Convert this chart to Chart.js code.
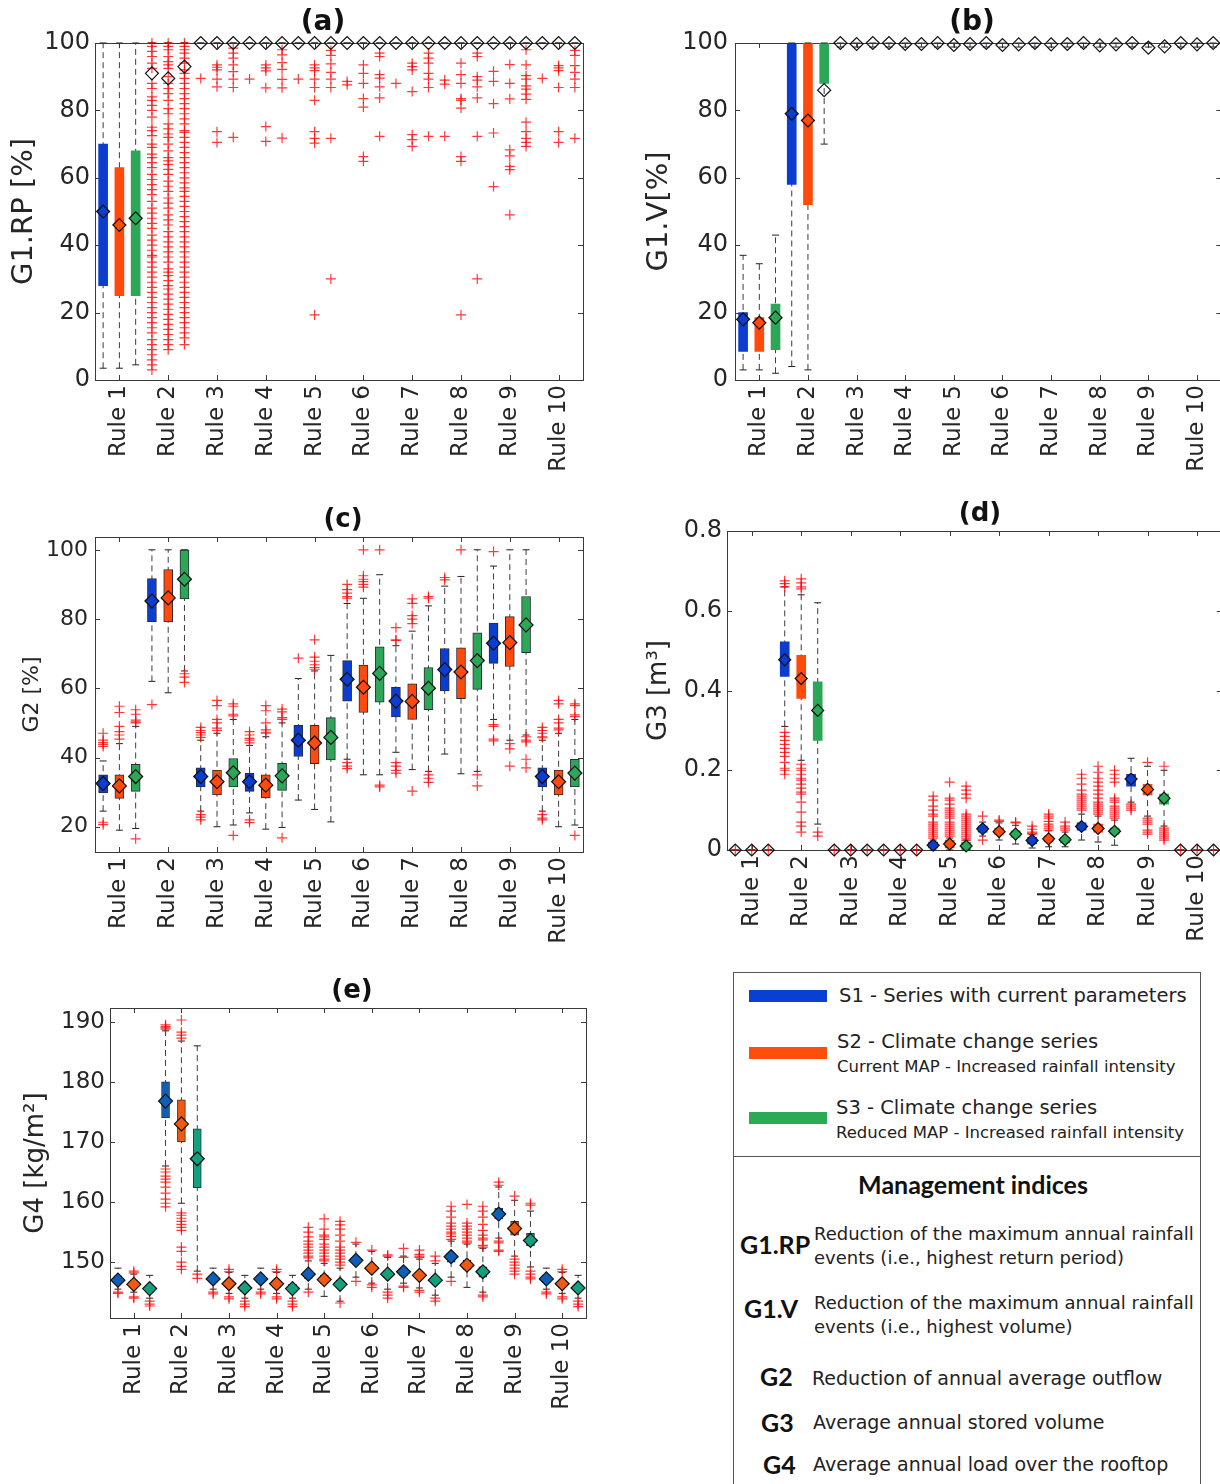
<!DOCTYPE html>
<html>
<head>
<meta charset="utf-8">
<script src="https://cdn.jsdelivr.net/npm/chart.js@4.4.0/dist/chart.umd.min.js"></script>
<style>
  html, body { margin: 0; padding: 0; background: #fff; }
  body { width: 1220px; height: 1484px; position: relative; overflow: hidden; font-family: 'DejaVu Sans', sans-serif; color: #222; }
  canvas { position: absolute; }
  .ttl { position: absolute; font-weight: bold; transform: translate(-50%, -50%); white-space: nowrap; line-height: 1; color: #111; }
  #legend { position: absolute; left: 733px; top: 972px; width: 468px; height: 560px; border: 1.5px solid #555; box-sizing: border-box; }
  #legend div { position: absolute; white-space: nowrap; line-height: 1; }
  .sw { left: 15px; width: 78px; height: 12px; }
  .lt { font-size: 19.5px; transform: translateY(-50%); }
  .ls { font-size: 16.5px; transform: translateY(-50%); }
  .gk { font-family: Lato, sans-serif; font-weight: bold; font-size: 25px; transform: translateY(-50%); color: #111; }
  .gd { font-size: 18px; transform: translateY(-50%); }
  .gd2 { font-size: 19px; transform: translateY(-50%); }
</style>
</head>
<body>
<canvas id="chartA" width="600" height="480" style="left:0;top:0"></canvas>
<canvas id="chartB" width="610" height="480" style="left:620px;top:0"></canvas>
<canvas id="chartC" width="600" height="460" style="left:0;top:490px"></canvas>
<canvas id="chartD" width="610" height="460" style="left:620px;top:490px"></canvas>
<canvas id="chartE" width="600" height="460" style="left:0;top:960px"></canvas>

<div class="ttl" style="left:323px;top:21px;font-size:28px">(a)</div>
<div class="ttl" style="left:972px;top:21px;font-size:28px">(b)</div>
<div class="ttl" style="left:343px;top:518px;font-size:26px">(c)</div>
<div class="ttl" style="left:980px;top:512px;font-size:26px">(d)</div>
<div class="ttl" style="left:352px;top:989px;font-size:26px">(e)</div>

<div id="legend">
  <div class="sw" style="top:17px;background:#0a3fd3"></div>
  <div class="lt" style="left:105px;top:23px">S1 - Series with current parameters</div>
  <div class="sw" style="top:74px;background:#ff4d0c"></div>
  <div class="lt" style="left:103px;top:69px">S2 - Climate change series</div>
  <div class="ls" style="left:103px;top:94px">Current MAP - Increased rainfall intensity</div>
  <div class="sw" style="top:139px;background:#2aaa55"></div>
  <div class="lt" style="left:102px;top:135px">S3 - Climate change series</div>
  <div class="ls" style="left:102px;top:160px">Reduced MAP - Increased rainfall intensity</div>
  <div style="left:0;top:183px;width:466px;border-top:1.5px solid #555"></div>
  <div class="gk" style="left:239px;top:211px;transform:translate(-50%,-50%)">Management indices</div>
  <div class="gk" style="left:6px;top:271px">G1.RP</div>
  <div class="gd" style="left:80px;top:261px">Reduction of the maximum annual rainfall</div>
  <div class="gd" style="left:80px;top:285px">events (i.e., highest return period)</div>
  <div class="gk" style="left:10px;top:335px">G1.V</div>
  <div class="gd" style="left:80px;top:330px">Reduction of the maximum annual rainfall</div>
  <div class="gd" style="left:80px;top:354px">events (i.e., highest volume)</div>
  <div class="gk" style="left:26px;top:403px">G2</div>
  <div class="gd2" style="left:78px;top:405px">Reduction of annual average outflow</div>
  <div class="gk" style="left:27px;top:449px">G3</div>
  <div class="gd2" style="left:79px;top:449px">Average annual stored volume</div>
  <div class="gk" style="left:29px;top:491px">G4</div>
  <div class="gd2" style="left:79px;top:491px">Average annual load over the rooftop</div>
</div>

<script>
// box order in every array: Rule 1 S1, Rule 1 S2, Rule 1 S3, Rule 2 S1, ...
const RULES = ['Rule 1', 'Rule 2', 'Rule 3', 'Rule 4', 'Rule 5', 'Rule 6', 'Rule 7', 'Rule 8', 'Rule 9', 'Rule 10'];
const SERIES_COLORS = ['#0a3dd0', '#ff4a0c', '#2ba757'];
const G4_COLORS = ['#0e5fb6', '#f0590f', '#12a07f'];

// (a) G1.RP [%]
const A_YTICKS = [0, 20, 40, 60, 80, 100];
const A_Q1 = [28, 25, 25, 100, 100, 100, 100, 100, 100, 100, 100, 100, 100, 100, 100, 100, 100, 100, 100, 100, 100, 100, 100, 100, 100, 100, 100, 100, 100, 100];
const A_Q3 = [70, 63, 68, 100, 100, 100, 100, 100, 100, 100, 100, 100, 100, 100, 100, 100, 100, 100, 100, 100, 100, 100, 100, 100, 100, 100, 100, 100, 100, 100];
const A_MEAN = [50, 46, 48, 91, 89.5, 93, 100, 100, 100, 100, 100, 100, 100, 100, 100, 100, 100, 100, 100, 100, 100, 100, 100, 100, 100, 100, 100, 100, 100, 100];
const A_LO = [3.5, 3.5, 4.5, 100, 100, 100, 100, 100, 100, 100, 100, 100, 100, 100, 100, 100, 100, 100, 100, 100, 100, 100, 100, 100, 100, 100, 100, 100, 100, 100];
const A_HI = [100, 100, 100, 100, 100, 100, 100, 100, 100, 100, 100, 100, 100, 100, 100, 100, 100, 100, 100, 100, 100, 100, 100, 100, 100, 100, 100, 100, 100, 100];
const A_OUT = [
  [], [], [],
  [100, 99, 97.5, 96, 94, 92.5, 88, 86.5, 84, 83, 81.5, 80, 78, 75, 74, 72.5, 70, 69, 67, 66, 64.5, 63, 61, 59.5, 58, 56.5, 55, 53, 51, 49.5, 48, 46.5, 45, 43, 41.5, 40, 38.5, 37, 36.5, 35, 33.5, 32, 30.5, 29, 27.5, 26, 24.5, 23, 21.5, 20, 18.5, 17, 15.5, 14, 12, 10.5, 9, 7.5, 6, 4.5, 3],
  [100, 99, 98, 96, 94.5, 93.5, 92.5, 90, 88, 86.5, 85, 83, 80.5, 79, 76, 74.5, 73, 72, 70, 68, 66, 65, 64, 62.5, 61, 59, 57.5, 56, 54, 52.5, 51, 49, 47.5, 46, 44, 42.5, 41, 39.5, 38, 36.5, 35, 33, 32, 31, 29.5, 28, 27, 25.5, 24, 22.5, 21, 19.5, 18, 16.5, 15, 13.5, 12, 10.5, 9],
  [100, 99, 98, 97, 95.5, 94, 92, 91, 89.5, 88, 86.5, 85, 83.5, 82, 80.5, 79, 77.5, 76, 74, 73.5, 72, 70.5, 69, 67.5, 66, 64.5, 63, 61.5, 60, 58.5, 57, 56, 54.5, 53, 51.5, 50, 48.5, 47, 45.5, 44, 42.5, 41, 39.5, 38, 36.5, 35, 33.5, 32, 30.5, 29, 27.5, 26, 24.5, 23, 21.5, 20, 18.5, 17, 15.5, 14, 12.5, 10.5],
  [89.5], [93.5, 92.8, 92, 89.3, 87, 73.7, 70.5], [98.5, 97, 95.5, 93.5, 91.5, 89.3, 86.8, 72],
  [89.3], [93.5, 92.6, 91.7, 86.7, 75.2, 70.8], [98, 96.5, 94.2, 92.2, 89.2, 86.7, 71.8],
  [89.3], [93.5, 92.6, 91.8, 89.3, 86.8, 83, 73.7, 71.7, 70.3, 19.3], [97.8, 96.3, 93.8, 91.3, 89.3, 86.8, 71.7, 30],
  [88.6, 87.6], [93.5, 91, 88, 83.5, 81, 66.3, 64.9], [97, 96, 90.6, 89.6, 87, 83.7, 72.3],
  [88], [94, 93, 92, 85.6, 72.8, 71.3, 69.3], [97, 95.5, 94, 91, 89.3, 86.8, 72.3],
  [89, 87.8, 72.3], [94, 90.6, 88, 83.5, 83, 80.7, 66.3, 64.9, 19.3], [97, 96, 90, 89, 87, 83.7, 72.3, 30],
  [91.6, 88.6, 82, 73.3, 57.4], [93.6, 88, 83.4, 68.3, 66.5, 63.4, 62.4, 49], [98, 93.5, 90.3, 89.3, 87.3, 86.3, 84.8, 83.3, 76.5, 73.7, 71.7, 70.5, 69.3],
  [89.5], [93.3, 92.6, 91.8, 86.8, 73.7, 70.5], [97.8, 96.3, 93.3, 91.3, 89.3, 86.8, 71.7]
];

// (b) G1.V [%]
const B_YTICKS = [0, 20, 40, 60, 80, 100];
const B_Q1 = [8.5, 8.5, 9, 58, 52, 88, 100, 100, 100, 100, 100, 100, 100, 100, 100, 100, 100, 100, 100, 100, 100, 100, 100, 100, 100, 100, 100, 100, 100, 100];
const B_Q3 = [20, 18.5, 22.5, 100, 100, 100, 100, 100, 100, 100, 100, 100, 100, 100, 100, 100, 100, 100, 100, 100, 100, 100, 100, 100, 100, 100, 100, 100, 100, 100];
const B_MEAN = [18, 17, 18.5, 79, 77, 86, 100, 99.7, 100, 100, 99.7, 99.7, 100, 99.4, 99.7, 100, 99.4, 99.6, 100, 99.6, 99.7, 100, 99.3, 99.6, 100, 98.6, 99, 100, 99.6, 100];
const B_LO = [3, 3, 2, 4, 3, 70, 98.8, 98.8, 98.8, 98.8, 98.8, 98.8, 98.8, 98.8, 98.8, 98.8, 98.8, 98.8, 98.8, 98.8, 98.8, 98.8, 98.8, 98.8, 98.8, 98.8, 98.8, 98.8, 98.8, 98.8];
const B_HI = [37, 34.5, 43, 100, 100, 100, 100, 100, 100, 100, 100, 100, 100, 100, 100, 100, 100, 100, 100, 100, 100, 100, 100, 100, 100, 100, 100, 100, 100, 100];
const B_OUT = [[], [], [], [], [], [], [], [], [], [], [], [], [], [], [], [], [], [], [], [], [], [], [], [], [], [], [], [], [], []];

// (c) G2 [%]
const C_YTICKS = [20, 40, 60, 80, 100];
const C_Q1 = [29.8, 28.2, 30.2, 79.2, 79.2, 85.8, 31.5, 29.2, 31.5, 30.2, 28.3, 30.5, 40.3, 38.2, 39.3, 56.3, 53, 56, 51.7, 51, 53.8, 59.2, 57, 59.7, 67.2, 66.3, 70.3, 31.5, 29.2, 31.5];
const C_Q3 = [35, 35, 38, 91.7, 94.3, 100, 37, 36.4, 39.7, 35.5, 35, 38.3, 49.3, 49.3, 51.5, 68, 66.7, 72, 60.3, 61.3, 66, 71.5, 71.7, 76, 78.8, 80.7, 86.5, 37, 36.4, 39.5];
const C_MEAN = [32.5, 31.8, 34.5, 85.2, 86.1, 91.5, 34.5, 33, 35.6, 33, 32, 34.7, 45, 44.2, 45.8, 62.6, 60.3, 64.3, 56.3, 56.2, 60, 65.4, 64.7, 68, 73, 73.2, 78.3, 34.5, 33, 35.5];
const C_LO = [24.5, 19, 19.5, 62, 58.7, 65, 24.5, 20, 20.5, 24, 19.3, 19.8, 27.7, 25, 21.4, 39.5, 35, 35, 41.5, 36.5, 36, 41, 35.3, 36, 51, 45, 46.5, 24.5, 20, 20.5];
const C_HI = [39, 44, 49, 100, 100, 100, 45, 47, 51, 43.5, 46, 50, 62.8, 65, 69.5, 84.5, 86, 92.8, 72.3, 76.5, 83.8, 89.5, 92.3, 100, 95.3, 100, 100, 45, 47, 51];
const C_OUT = [
  [47, 45, 44.3, 43.8, 43.2, 21.3, 20.6], [54.8, 53, 49, 47.5, 46.5, 45.3], [53.8, 52.5, 50.8, 50.3, 50, 16.5],
  [55.3], [], [64.2, 63.2, 61.7],
  [48.7, 47.8, 47.2, 46.5, 45.8, 23.5, 22.8, 22], [56.5, 55, 51, 50, 48.5, 47.8], [55.5, 54.8, 52.5, 52, 17.5],
  [47.5, 46.5, 45.5, 45, 44.2, 22, 21.2], [55, 53.5, 50, 48, 47.3, 47], [54, 53.2, 51.5, 51, 16.8],
  [68.7], [74, 69, 67.8, 66.8, 66, 65.5], [],
  [90, 88.5, 87.5, 86.5, 86, 38.5, 37.5, 36.8], [100, 92.5, 91.5, 90.8, 90, 89.2], [100, 32, 31.5],
  [77.5, 74, 73.8, 38.5, 37.5, 36.3, 35.5], [85.8, 84.5, 81, 80, 78.7, 30.3], [86.5, 86, 35, 34, 32.8],
  [92, 91.3], [100], [35, 31.8],
  [99.5, 49.5, 49, 45.3, 44.8], [44, 42.5, 37.5], [46, 45, 44.5, 39.5, 37],
  [48.7, 47.8, 47, 46, 45.7, 23.5, 22.5, 22], [56.5, 55.5, 51, 50, 48.5, 48], [55.5, 55, 52.3, 51.8, 17.5]
];

// (d) G3 [m3]
const D_YTICKS = [0, 0.2, 0.4, 0.6, 0.8];
const D_Q1 = [0, 0, 0, 0.435, 0.38, 0.275, 0, 0, 0, 0, 0, 0, 0.005, 0.005, 0, 0.045, 0.04, 0.032, 0.015, 0.02, 0.018, 0.05, 0.045, 0.04, 0.16, 0.138, 0.115, 0, 0, 0];
const D_Q3 = [0, 0, 0, 0.522, 0.488, 0.422, 0, 0, 0, 0, 0, 0, 0.02, 0.025, 0.02, 0.06, 0.055, 0.048, 0.032, 0.035, 0.032, 0.068, 0.065, 0.055, 0.19, 0.165, 0.14, 0, 0, 0];
const D_MEAN = [0, 0, 0, 0.477, 0.43, 0.35, 0, 0, 0, 0, 0, 0, 0.012, 0.015, 0.01, 0.053, 0.046, 0.04, 0.024, 0.028, 0.026, 0.059, 0.054, 0.047, 0.178, 0.152, 0.13, 0, 0, 0];
const D_LO = [0, 0, 0, 0.31, 0.225, 0.065, 0, 0, 0, 0, 0, 0, 0, 0, 0, 0.035, 0.025, 0.015, 0.005, 0.008, 0.008, 0.025, 0.02, 0.012, 0.12, 0.085, 0.06, 0, 0, 0];
const D_HI = [0, 0, 0, 0.66, 0.64, 0.62, 0, 0, 0, 0, 0, 0, 0.025, 0.03, 0.025, 0.07, 0.068, 0.062, 0.038, 0.048, 0.045, 0.09, 0.085, 0.075, 0.23, 0.21, 0.2, 0, 0, 0];
const D_OUT = [
  [0], [0], [0],
  [0.675, 0.668, 0.66, 0.295, 0.285, 0.275, 0.265, 0.255, 0.245, 0.235, 0.22, 0.205, 0.2, 0.19],
  [0.68, 0.67, 0.66, 0.655, 0.215, 0.205, 0.2, 0.19, 0.18, 0.175, 0.165, 0.155, 0.145, 0.14, 0.12, 0.095, 0.07, 0.06, 0.045],
  [0.045, 0.035],
  [0], [0], [0],
  [0], [0], [0],
  [0.135, 0.125, 0.11, 0.1, 0.09, 0.085, 0.07, 0.065, 0.06, 0.055, 0.05, 0.045, 0.04, 0.035, 0.03],
  [0.17, 0.13, 0.125, 0.115, 0.105, 0.1, 0.095, 0.09, 0.085, 0.08, 0.07, 0.065, 0.06, 0.055, 0.05, 0.045, 0.04, 0.035],
  [0.16, 0.15, 0.14, 0.13, 0.09, 0.085, 0.08, 0.075, 0.07, 0.065, 0.06, 0.055, 0.05, 0.045, 0.04, 0.035, 0.03, 0.025],
  [0.085, 0.025], [0.075, 0.072], [0.07, 0.068],
  [0.06, 0.052, 0.045, 0.042, 0.04], [0.09, 0.085, 0.08, 0.072, 0.065, 0.06, 0.055, 0.05], [0.07, 0.06, 0.055, 0.05],
  [0.19, 0.18, 0.165, 0.15, 0.14, 0.135, 0.13, 0.125, 0.12, 0.115, 0.11, 0.105, 0.1],
  [0.21, 0.195, 0.18, 0.17, 0.16, 0.15, 0.14, 0.13, 0.12, 0.115, 0.11, 0.105, 0.1, 0.095, 0.09],
  [0.2, 0.19, 0.18, 0.17, 0.13, 0.125, 0.12, 0.11, 0.105, 0.1, 0.095, 0.09, 0.085, 0.08],
  [0.115, 0.11, 0.105, 0.1], [0.22, 0.08, 0.075, 0.07, 0.065, 0.05, 0.045, 0.04], [0.21, 0.055, 0.05, 0.045, 0.04, 0.035, 0.03, 0.025],
  [0], [0], [0]
];

// (e) G4 [kg/m2]
const E_YTICKS = [150, 160, 170, 180, 190];
const E_Q1 = [146.5, 145.8, 145, 174, 170, 162.4, 146.6, 145.8, 145.1, 146.6, 145.8, 145.1, 147.3, 146.5, 145.8, 149.7, 148.4, 147.4, 147.8, 147.2, 146.4, 150, 148.8, 147.5, 157.2, 154.5, 152.7, 146.6, 145.8, 145.1];
const E_Q3 = [147.7, 146.8, 146.2, 180, 177, 172.2, 147.8, 147, 146.3, 147.8, 147, 146.3, 148.5, 147.8, 147, 150.8, 149.5, 148.6, 149, 148.4, 147.6, 151.5, 150.3, 149.2, 159, 156.8, 154.8, 147.8, 147, 146.3];
const E_MEAN = [147, 146.3, 145.6, 176.8, 173, 167.2, 147.2, 146.4, 145.7, 147.2, 146.4, 145.6, 148, 147.1, 146.3, 150.3, 149, 148, 148.4, 147.8, 147, 150.9, 149.5, 148.4, 158, 155.6, 153.6, 147.2, 146.4, 145.7];
const E_LO = [145.5, 145, 144, 166, 159.8, 148.5, 145.5, 144.8, 144, 145.5, 144.8, 144, 145.5, 144.3, 143.5, 147.5, 146.5, 145.5, 146.5, 145.7, 144.5, 147.5, 145.8, 145, 154, 151, 149.2, 145.5, 144.8, 144];
const E_HI = [149, 148, 147.8, 188.5, 186.8, 186, 149, 148.3, 147.8, 149, 148.3, 147.8, 150.2, 149.8, 149, 153, 151.8, 150.8, 151, 150.5, 149.8, 153.5, 153, 152.3, 162.5, 160.3, 158.5, 149, 148.3, 147.8];
const E_OUT = [
  [145, 144.8], [148.5, 148.2, 144.2, 144], [143.5, 143, 142.7],
  [189.5, 189.2, 189, 188.8, 165.5, 165, 164.3, 163.8, 163.3, 162.5, 161.5, 160.5, 159.8, 159.2],
  [190.3, 188.3, 187.8, 187.3, 158.2, 157.8, 157.3, 156.8, 156.3, 155.8, 155.3, 152.5, 151.8, 150, 149.3, 148.8],
  [148, 147.3],
  [145, 144.7], [148.8, 148.4, 144.2, 143.9], [143.5, 143, 142.6],
  [145, 144.7], [148.8, 148.4, 144.2, 143.9], [143.5, 143, 142.6],
  [155.8, 155, 154.2, 153.5, 153, 152.5, 152, 151.5, 151, 150.7, 145],
  [157.2, 155.5, 154.5, 154.2, 153.8, 153, 152.5, 152, 151.5, 151, 150.5, 150.2],
  [156.8, 156.2, 155.5, 154.5, 153.5, 152.5, 152, 151.5, 151, 150.5, 150, 149.5, 143.2],
  [153.3, 146.8], [152, 146.2, 145.8], [151.2, 151, 145, 144.5, 144],
  [152.3, 150.8, 146, 145.8], [152, 151.3, 151, 150.8, 145.3, 145], [151, 150.2, 144, 143.5],
  [159.3, 158.5, 157.5, 156.5, 156, 155.5, 155, 154.7, 154.3, 153.8, 146.8],
  [159.6, 156.5, 156, 155.5, 155, 154.5, 154, 153.5, 153.2],
  [159.3, 158.5, 157.5, 156.3, 155.3, 154.5, 154, 153.7, 152.8, 152.5, 144.5, 144.2],
  [163.3, 162.8, 153.5, 153.2, 152, 151.8],
  [161, 150.5, 150, 149.5, 149, 148.5, 148],
  [159.8, 159.5, 148.5, 148, 147.5, 147.2],
  [145, 144.7], [148.8, 148.4, 144.2, 143.9], [143.5, 143, 142.6]
];

Chart.defaults.font.family = "'DejaVu Sans', sans-serif";
Chart.defaults.color = '#262626';

// axes box with inward ticks, like the original figure
const framePlugin = {
  id: 'frame',
  beforeDatasetsDraw(chart) {
    const { ctx, chartArea: a, scales } = chart;
    ctx.save();
    ctx.strokeStyle = '#3a3a3a';
    ctx.lineWidth = 1;
    ctx.strokeRect(Math.round(a.left) + 0.5, Math.round(a.top) + 0.5, Math.round(a.width), Math.round(a.height));
    ctx.beginPath();
    scales.x.ticks.forEach(t => {
      const px = Math.round(scales.x.getPixelForValue(t.value)) + 0.5;
      ctx.moveTo(px, a.bottom); ctx.lineTo(px, a.bottom - 5);
      ctx.moveTo(px, a.top); ctx.lineTo(px, a.top + 5);
    });
    scales.y.ticks.forEach(t => {
      const py = Math.round(scales.y.getPixelForValue(t.value)) + 0.5;
      ctx.moveTo(a.left, py); ctx.lineTo(a.left + 5, py);
      ctx.moveTo(a.right, py); ctx.lineTo(a.right - 5, py);
    });
    ctx.stroke();
    ctx.restore();
  }
};

function boxChart(id, p) {
  const n = p.q1.length;
  const datasets = [];

  const whisk = [];
  for (let i = 0; i < n; i++) {
    whisk.push({ x: i + 1, y: p.lo[i] }, { x: i + 1, y: p.hi[i] }, { x: i + 1, y: null });
  }
  datasets.push({ type: 'line', data: whisk, borderColor: '#3c3c3c', borderWidth: 1, borderDash: [6, 4], pointRadius: 0, spanGaps: false, order: 6 });

  [0, 1, 2].forEach(s => {
    datasets.push({
      type: 'bar',
      label: 'S' + (s + 1),
      data: RULES.map((r, k) => ({ x: 3 * k + s + 1, y: [p.q1[3 * k + s], p.q3[3 * k + s]] })),
      backgroundColor: p.colors[s],
      borderColor: p.edge || p.colors[s],
      borderWidth: p.edge ? 1 : 0,
      borderSkipped: false,
      barThickness: p.boxW,
      grouped: false,
      order: 5
    });
  });

  const caps = [];
  for (let i = 0; i < n; i++) caps.push({ x: i + 1, y: p.lo[i] }, { x: i + 1, y: p.hi[i] });
  datasets.push({ type: 'scatter', data: caps, pointStyle: 'line', pointRadius: 3.5, pointBorderColor: '#222', pointBorderWidth: 1, order: 4, clip: false });

  const outs = [];
  p.out.forEach((list, i) => list.forEach(v => outs.push({ x: i + 1, y: v })));
  datasets.push({ type: 'scatter', data: outs, pointStyle: 'cross', pointRadius: 5, pointBorderColor: 'rgba(255,0,0,0.78)', pointBorderWidth: 1.2, order: 3, clip: false });

  // hollow diamonds: box colour shows through when the marker sits inside the box
  const fills = p.mean.map((m, i) => (p.q3[i] > p.q1[i] && m >= p.q1[i] && m <= p.q3[i]) ? p.colors[i % 3] : 'rgba(0,0,0,0)');
  datasets.push({ type: 'scatter', data: p.mean.map((v, i) => ({ x: i + 1, y: v })), pointStyle: 'rectRot', pointRadius: p.dia, pointBackgroundColor: fills, pointBorderColor: '#111', pointBorderWidth: 1.2, order: 1, clip: false });

  return new Chart(document.getElementById(id), {
    type: 'bar',
    data: { datasets },
    options: {
      responsive: false,
      animation: false,
      layout: { padding: p.pad },
      plugins: { legend: { display: false }, tooltip: { enabled: false } },
      scales: {
        x: {
          type: 'linear', min: 0.5, max: 30.5, offset: false,
          grid: { display: false, drawTicks: false }, border: { display: false },
          afterBuildTicks: ax => { ax.ticks = RULES.map((r, k) => ({ value: 3 * k + 2 })); },
          afterFit: ax => { ax.height = p.xH; },
          ticks: { autoSkip: false, minRotation: 90, maxRotation: 90, padding: 5, font: { size: 23 }, callback: (v, i) => RULES[i] }
        },
        y: {
          min: p.ymin, max: p.ymax,
          grid: { display: false, drawTicks: false }, border: { display: false },
          afterBuildTicks: ax => { ax.ticks = p.yTicks.map(v => ({ value: v })); },
          afterFit: ax => { ax.width = p.yW; },
          ticks: { padding: p.tickPad, font: { size: p.tickSize }, callback: v => String(v) },
          title: { display: true, text: p.yTitle, font: { size: p.titleSize }, padding: { top: p.titlePad, bottom: 0 } }
        }
      }
    },
    plugins: [framePlugin]
  });
}

boxChart('chartA', {
  q1: A_Q1, q3: A_Q3, mean: A_MEAN, lo: A_LO, hi: A_HI, out: A_OUT, colors: SERIES_COLORS,
  ymin: 0, ymax: 100, yTicks: A_YTICKS, yTitle: 'G1.RP [%]', titleSize: 29, titlePad: 7,
  tickSize: 24, tickPad: 5, yW: 95, xH: 100, pad: { left: 0, right: 17, top: 43, bottom: 0 }, boxW: 9, dia: 6.5
});
boxChart('chartB', {
  q1: B_Q1, q3: B_Q3, mean: B_MEAN, lo: B_LO, hi: B_HI, out: B_OUT, colors: SERIES_COLORS,
  ymin: 0, ymax: 100, yTicks: B_YTICKS, yTitle: 'G1.V[%]', titleSize: 29, titlePad: 22,
  tickSize: 24, tickPad: 7, yW: 115, xH: 100, pad: { left: 0, right: 5, top: 43, bottom: 0 }, boxW: 9, dia: 6.5
});
boxChart('chartC', {
  q1: C_Q1, q3: C_Q3, mean: C_MEAN, lo: C_LO, hi: C_HI, out: C_OUT, colors: SERIES_COLORS, edge: '#2a2a3a',
  ymin: 12.7, ymax: 103.7, yTicks: C_YTICKS, yTitle: 'G2 [%]', titleSize: 22, titlePad: 19,
  tickSize: 22, tickPad: 7, yW: 95, xH: 98, pad: { left: 0, right: 17, top: 47, bottom: 0 }, boxW: 9, dia: 7
});
boxChart('chartD', {
  q1: D_Q1, q3: D_Q3, mean: D_MEAN, lo: D_LO, hi: D_HI, out: D_OUT, colors: SERIES_COLORS,
  ymin: 0, ymax: 0.8, yTicks: D_YTICKS, yTitle: 'G3 [m³]', titleSize: 26, titlePad: 24,
  tickSize: 24, tickPad: 5, yW: 107, xH: 100, pad: { left: 0, right: 5, top: 41, bottom: 0 }, boxW: 9, dia: 6
});
boxChart('chartE', {
  q1: E_Q1, q3: E_Q3, mean: E_MEAN, lo: E_LO, hi: E_HI, out: E_OUT, colors: G4_COLORS, edge: '#333',
  ymin: 140.7, ymax: 192.3, yTicks: E_YTICKS, yTitle: 'G4 [kg/m²]', titleSize: 26, titlePad: 21,
  tickSize: 23, tickPad: 5, yW: 110, xH: 102, pad: { left: 0, right: 14, top: 48, bottom: 0 }, boxW: 8, dia: 7
});
</script>
</body>
</html>
